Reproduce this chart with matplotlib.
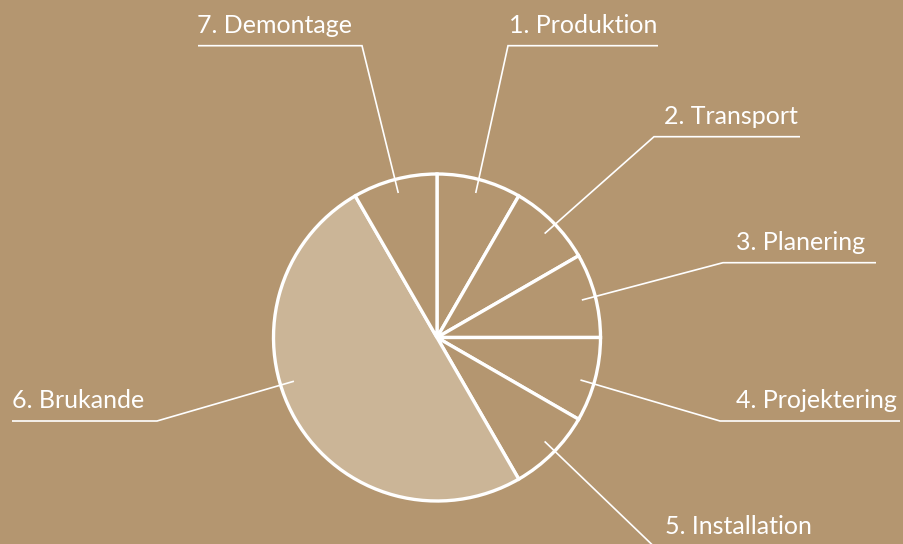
import matplotlib
matplotlib.use("Agg")
import matplotlib.pyplot as plt
import numpy as np

# ---- data ----
labels = ["1. Produktion", "2. Transport", "3. Planering", "4. Projektering",
          "5. Installation", "6. Brukande", "7. Demontage"]
values = [1, 1, 1, 1, 1, 6, 1]

# ---- style ----
BG = "#B49670"
LIGHT = "#CBB597"
colors = [BG, BG, BG, BG, BG, LIGHT, BG]
W, H = 904, 544

fig = plt.figure(figsize=(W / 100, H / 100), dpi=100, facecolor=BG)
ax = fig.add_axes([0, 0, 1, 1])
ax.set_facecolor(BG)

cx, cy, r = 437, H - 337.5, 163.5
wedges, _ = ax.pie(values, colors=colors, startangle=90, counterclock=False,
                   center=(cx, cy), radius=r, frame=True,
                   wedgeprops=dict(edgecolor="white", linewidth=2.4))
ax.set_xlim(0, W)
ax.set_ylim(0, H)
ax.set_aspect("equal")
ax.axis("off")

# layout for leaders: anchor angle, elbow (x, y_img), underline end x, text x
anchor_ang = [75, 44, 14.5, -16.5, -44, 197, 105]
elbow = [(508, 45.7), (654, 136.7), (723, 262.7), (720, 421), (654, 546.5),
         (157, 421), (362, 45.7)]
line_end = [658, 800, 876, 900, 822, 12, 198]
text_x = [509, 664, 736, 736, 665, 12, 197]

for i, lab in enumerate(labels):
    a = np.deg2rad(anchor_ang[i])
    sx, sy = cx + 0.915 * r * np.cos(a), cy + 0.915 * r * np.sin(a)
    ex, ey = elbow[i][0], H - elbow[i][1]
    ax.plot([sx, ex, line_end[i]], [sy, ey, ey], color="white", lw=1.2,
            solid_capstyle="butt", solid_joinstyle="miter", zorder=5)
    ax.text(text_x[i], ey + 12.5, lab, color="white", fontsize=18,
            family="Lato", ha="left", va="baseline", zorder=6)

fig.savefig("out.png", dpi=100, facecolor=BG)
